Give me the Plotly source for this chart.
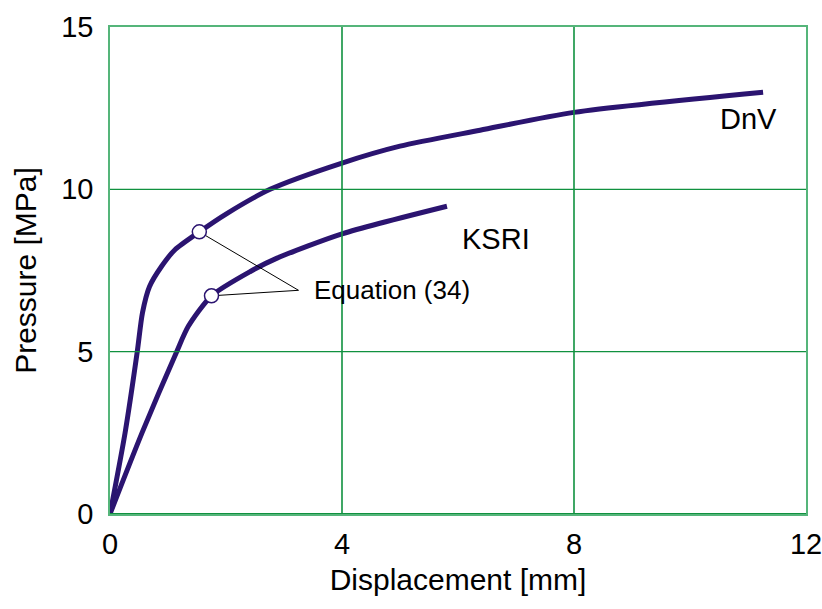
import plotly.graph_objects as go

# Pressure vs displacement curves
dnv_disp = [0, 0.26, 0.47, 0.56, 0.68, 0.89, 1.12, 1.54, 2.0, 2.76, 4.0, 5.0, 6.38, 8.0, 11.26]
dnv_pres = [0, 2.5, 5.0, 6.2, 7.0, 7.63, 8.14, 8.69, 9.24, 10.0, 10.81, 11.33, 11.82, 12.37, 12.99]

ksri_disp = [0, 0.55, 1.15, 1.35, 1.75, 2.42, 2.88, 4.0, 5.81]
ksri_pres = [0, 2.49, 5.0, 5.78, 6.72, 7.47, 7.88, 8.63, 9.48]

# Points given by Equation (34)
eq_disp = [1.54, 1.75]
eq_pres = [8.69, 6.72]
eq_label_xy = [3.25, 6.89]

x_ticks = [0, 4, 8, 12]
y_ticks = [0, 5, 10, 15]

curve_color = "#2b1470"
grid_color = "#10913f"
frame_color = "#55b57a"
font_family = "Liberation Sans, Arial, sans-serif"

fig = go.Figure()

fig.add_trace(go.Scatter(x=dnv_disp, y=dnv_pres, mode="lines",
                         line=dict(color=curve_color, width=5, shape="spline", smoothing=0.7),
                         showlegend=False, hoverinfo="skip"))
fig.add_trace(go.Scatter(x=ksri_disp, y=ksri_pres, mode="lines",
                         line=dict(color=curve_color, width=5, shape="spline", smoothing=0.7),
                         showlegend=False, hoverinfo="skip"))

# Leader lines from the equation points to the label
for xd, yd in zip(eq_disp, eq_pres):
    fig.add_trace(go.Scatter(x=[xd, eq_label_xy[0]], y=[yd, eq_label_xy[1]], mode="lines",
                             line=dict(color="black", width=1),
                             showlegend=False, hoverinfo="skip"))

fig.add_trace(go.Scatter(x=eq_disp, y=eq_pres, mode="markers",
                         marker=dict(size=14, color="white",
                                     line=dict(color=curve_color, width=1.5)),
                         showlegend=False, hoverinfo="skip"))

# Grid lines drawn over the curves
for xv in x_ticks[1:-1]:
    fig.add_shape(type="line", x0=xv, x1=xv, y0=y_ticks[0], y1=y_ticks[-1],
                  line=dict(color=grid_color, width=1.6), layer="above")
for yv in y_ticks[1:-1]:
    fig.add_shape(type="line", x0=x_ticks[0], x1=x_ticks[-1], y0=yv, y1=yv,
                  line=dict(color=grid_color, width=1.2), layer="above")
fig.add_shape(type="line", x0=x_ticks[0], x1=x_ticks[-1], y0=y_ticks[0], y1=y_ticks[0],
              line=dict(color=grid_color, width=2), layer="above")

fig.add_annotation(x=11.0, y=12.18, text="DnV", showarrow=False,
                   font=dict(size=29, color="black", family=font_family))
fig.add_annotation(x=6.65, y=8.48, text="KSRI", showarrow=False,
                   font=dict(size=29, color="black", family=font_family))
fig.add_annotation(x=eq_label_xy[0] + 0.23, y=eq_label_xy[1], text="Equation (34)",
                   showarrow=False, xanchor="left",
                   font=dict(size=26, color="black", family=font_family))

fig.update_layout(
    width=822, height=609,
    margin=dict(l=110, r=16, t=27, b=95),
    paper_bgcolor="white", plot_bgcolor="white",
    font=dict(family=font_family, size=29, color="black"),
    xaxis=dict(range=[x_ticks[0], x_ticks[-1]], tickvals=x_ticks,
               showgrid=False, zeroline=False, automargin=False,
               showline=True, linecolor=frame_color, linewidth=1.5, mirror=True,
               ticks="", ticklabelstandoff=3, ticklabeloverflow="allow",
               title=dict(text="Displacement [mm]", font=dict(size=30), standoff=10)),
    yaxis=dict(range=[y_ticks[0], y_ticks[-1]], tickvals=y_ticks,
               showgrid=False, zeroline=False, automargin=False,
               showline=True, linecolor=frame_color, linewidth=1.5, mirror=True,
               ticks="", ticklabelstandoff=9, ticklabeloverflow="allow",
               title=dict(text="Pressure [MPa]", font=dict(size=30), standoff=16)),
)

fig.write_html("out.html")
